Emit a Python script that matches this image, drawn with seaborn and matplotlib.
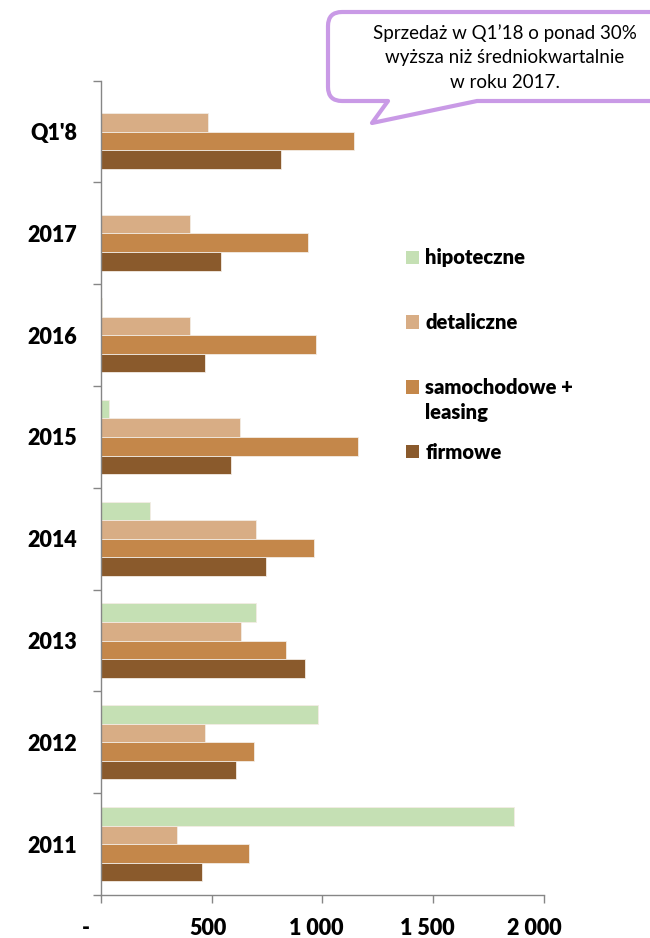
import numpy as np
import pandas as pd
import matplotlib
matplotlib.use("Agg")
import matplotlib.pyplot as plt
import seaborn as sns
from matplotlib.patches import Patch, PathPatch
from matplotlib.path import Path
import matplotlib.transforms as mtransforms

# ---------------- data ----------------
categories = ["Q1'8", "2017", "2016", "2015", "2014", "2013", "2012", "2011"]
series = ["hipoteczne", "detaliczne", "samochodowe + leasing", "firmowe"]
hipoteczne = [0, 0, 5, 36, 221, 699, 979, 1864]
detaliczne = [484, 401, 403, 630, 702, 633, 472, 344]
samochodowe = [1144, 934, 971, 1159, 961, 837, 691, 669]
firmowe = [815, 543, 471, 588, 747, 923, 609, 457]
colors = ["#C5E0B4", "#D8AD85", "#C4874A", "#8A5A2C"]
x_ticks = [0, 500, 1000, 1500, 2000]
x_labels = ["-", "500", "1 000", "1 500", "2 000"]
legend_labels = ["hipoteczne", "detaliczne", "samochodowe +", "firmowe"]
legend_extra = "leasing"
callout_lines = ["Sprzedaż w Q1’18 o ponad 30%",
                 "wyższa niż średniokwartalnie",
                 "w roku 2017."]

rows = []
for name, vals in zip(series, [hipoteczne, detaliczne, samochodowe, firmowe]):
    for cat, v in zip(categories, vals):
        rows.append({"kat": cat, "seria": name, "val": v})
df = pd.DataFrame(rows)

# ---------------- style ----------------
sns.set_theme(style="white")
plt.rcParams['font.family'] = ['Lato', 'DejaVu Sans']
plt.rcParams['text.color'] = 'black'
BOLD = "heavy"

W, H = 650, 938
fig = plt.figure(figsize=(W / 100, H / 100), dpi=100)
fig.patch.set_facecolor("white")

ax_left, ax_right, ax_top, ax_bot = 100.7, 544, 80.7, 895
ax = fig.add_axes([ax_left / W, 1 - ax_bot / H, (ax_right - ax_left) / W, (ax_bot - ax_top) / H])

sns.barplot(data=df, y="kat", x="val", hue="seria", hue_order=series, order=categories,
            palette=colors, orient="h", width=0.73, saturation=1, ax=ax,
            edgecolor="#F3ECE4", linewidth=0.6, legend=False, errorbar=None)

grey = "#868686"
ax.set_xlim(0, 2000)
ax.set_ylim(len(categories) - 0.5, -0.5)
ax.set_xlabel("")
ax.set_ylabel("")
for s in ["top", "right"]:
    ax.spines[s].set_visible(False)
for s in ["left", "bottom"]:
    ax.spines[s].set_color(grey)
    ax.spines[s].set_linewidth(1.0)

ax.set_yticks(range(len(categories)))
ax.set_yticklabels(categories, fontsize=15.5, fontweight=BOLD, color="black")
ax.tick_params(axis="y", which="major", length=0, pad=17)
ax.set_yticks(np.arange(-0.5, len(categories), 1.0), minor=True)
ax.tick_params(axis="y", which="minor", length=5.8, width=1.0, color=grey, direction="out", left=True)

ax.set_xticks(x_ticks)
ax.set_xticklabels(x_labels, fontsize=15.5, fontweight=BOLD, color="black")
ax.tick_params(axis="x", which="major", length=5.8, width=1.0, color=grey, direction="out", pad=11, bottom=True)
for lab, dx in zip(ax.get_xticklabels(), [-15, -4, -6, -5.5, -10]):
    lab.set_transform(lab.get_transform() + mtransforms.ScaledTranslation(dx / 100, 0, fig.dpi_scale_trans))

# ---------------- legend ----------------
fs_leg = 14.5
handles = [Patch(facecolor=c, edgecolor="none") for c in colors]
leg = ax.legend(handles=handles, labels=legend_labels, loc="center left",
                bbox_to_anchor=(406 / W, 1 - 355 / H), bbox_transform=fig.transFigure,
                frameon=False, prop={"weight": BOLD, "size": fs_leg}, labelcolor="black",
                handlelength=0.65, handleheight=0.65, handletextpad=0.3,
                labelspacing=2.27, borderpad=0, borderaxespad=0)
for t in leg.get_texts():
    t.set_fontweight(BOLD)
    t.set_color("black")
fig.text(425 / W, 1 - 412 / H, legend_extra, fontsize=fs_leg, fontweight=BOLD,
         ha="left", va="center", color="black")

# ---------------- callout ----------------
T = mtransforms.Affine2D().scale(1 / W, -1 / H).translate(0, 1) + fig.transFigure
L, Tp, R, B, r = 328, 12, 720, 101, 14
verts = [(388, B), (372, 123), (477, B), (R, B), (R, Tp), (L + r, Tp), (L, Tp), (L, Tp + r),
         (L, B - r), (L, B), (L + r, B), (388, B)]
codes = [Path.MOVETO, Path.LINETO, Path.LINETO, Path.LINETO, Path.LINETO, Path.LINETO,
         Path.CURVE3, Path.CURVE3, Path.LINETO, Path.CURVE3, Path.CURVE3, Path.CLOSEPOLY]
callout = PathPatch(Path(verts, codes), transform=T, facecolor="white", edgecolor="#C99AE6",
                    linewidth=3.0, joinstyle="round", clip_on=False)
fig.add_artist(callout)
for line, yc in zip(callout_lines, [33, 57.5, 82]):
    fig.text(505 / W, 1 - yc / H, line, fontsize=13.5, ha="center", va="center", color="black")

fig.savefig("out.png", dpi=100, facecolor="white")
